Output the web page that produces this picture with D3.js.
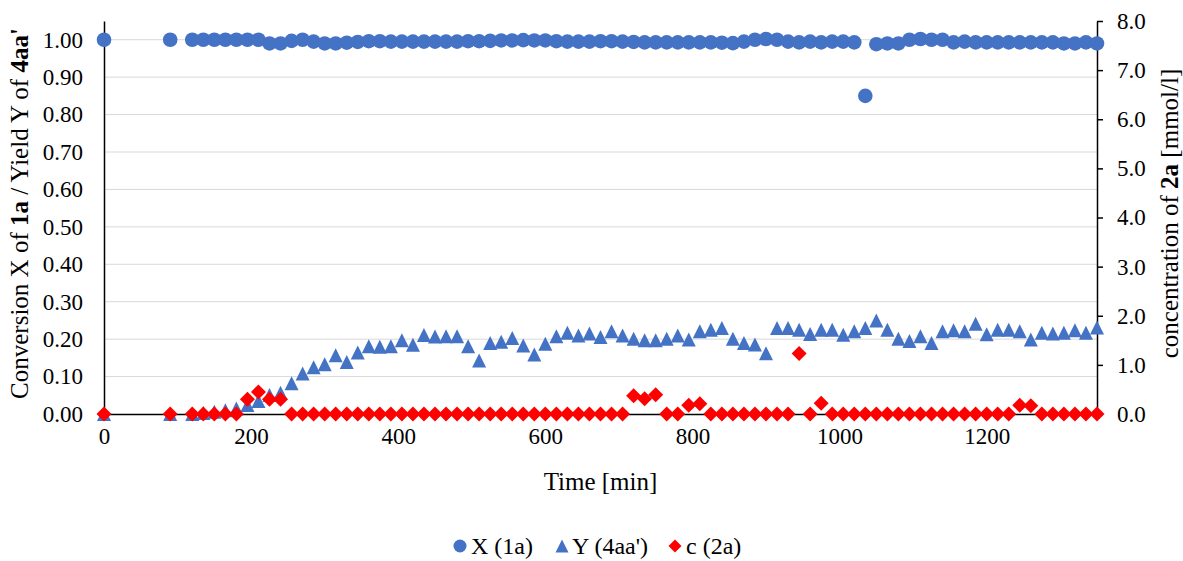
<!DOCTYPE html>
<html>
<head>
<meta charset="utf-8">
<script src="https://cdn.jsdelivr.net/npm/d3@7"></script>
<style>
  html, body { margin: 0; padding: 0; background: #fff; }
  svg { display: block; font-family: "Liberation Serif", "Times New Roman", serif; }
  .grid line { stroke: #d9d9d9; stroke-width: 1; }
  .axis path, .axis line { stroke: #000; stroke-width: 1.5; }
  .axis text { fill: #000; font-size: 23px; font-family: "Liberation Serif", "Times New Roman", serif; }
  .title { fill: #000; font-size: 25px; }
  .legend text { fill: #000; font-size: 24px; }
</style>
</head>
<body>
<svg id="chart" width="1183" height="561"></svg>
<script>
// Sampling times [min]
const times = [0, 90, 120, 135, 150, 165, 180, 195, 210, 225, 240, 255, 270, 285, 300,
  315, 330, 345, 360, 375, 390, 405, 420, 435, 450, 465, 480, 495, 510, 525, 540,
  555, 570, 585, 600, 615, 630, 645, 660, 675, 690, 705, 720, 735, 750, 765, 780,
  795, 810, 825, 840, 855, 870, 885, 900, 915, 930, 945, 960, 975, 990, 1005, 1020,
  1035, 1050, 1065, 1080, 1095, 1110, 1125, 1140, 1155, 1170, 1185, 1200, 1215,
  1230, 1245, 1260, 1275, 1290, 1305, 1320, 1335, 1350];

// Conversion X of 1a
const conversionX = [1.00, 1.00, 1.00, 1.00, 1.00, 1.00, 1.00, 1.00, 1.00, 0.99, 0.99,
  0.997, 1.00, 0.995, 0.99, 0.99, 0.992, 0.994, 0.996, 0.996, 0.995, 0.995, 0.995,
  0.995, 0.995, 0.995, 0.995, 0.996, 0.996, 0.997, 0.998, 0.998, 0.999, 0.998, 0.998,
  0.996, 0.995, 0.995, 0.995, 0.996, 0.996, 0.995, 0.994, 0.993, 0.993, 0.993, 0.993,
  0.993, 0.993, 0.993, 0.992, 0.991, 0.995, 1.00, 1.002, 1.00, 0.995, 0.993, 0.995,
  0.993, 0.995, 0.995, 0.993, 0.85, 0.988, 0.99, 0.99, 1.00, 1.002, 1.00, 1.00,
  0.993, 0.995, 0.993, 0.993, 0.993, 0.993, 0.993, 0.993, 0.993, 0.993, 0.99, 0.99,
  0.993, 0.99];

// Yield Y of 4aa'
const yieldY = [0, 0, 0, 0.003, 0.006, 0.01, 0.015, 0.024, 0.035, 0.051, 0.057, 0.082,
  0.108, 0.125, 0.133, 0.157, 0.139, 0.164, 0.181, 0.18, 0.181, 0.197, 0.185, 0.211,
  0.207, 0.208, 0.208, 0.181, 0.143, 0.19, 0.193, 0.203, 0.183, 0.159, 0.188, 0.208,
  0.217, 0.21, 0.215, 0.206, 0.221, 0.21, 0.201, 0.197, 0.197, 0.201, 0.21, 0.199,
  0.221, 0.225, 0.23, 0.201, 0.19, 0.186, 0.162, 0.23, 0.23, 0.225, 0.214, 0.225,
  0.225, 0.212, 0.221, 0.23, 0.25, 0.225, 0.201, 0.195, 0.208, 0.19, 0.221, 0.224,
  0.221, 0.241, 0.213, 0.225, 0.225, 0.221, 0.199, 0.217, 0.215, 0.217, 0.224, 0.217,
  0.231];

// Concentration c of 2a [mmol/l]
const conc2a = [0, 0, 0, 0, 0, 0, 0, 0.3, 0.45, 0.3, 0.3, 0, 0, 0, 0, 0, 0, 0, 0, 0,
  0, 0, 0, 0, 0, 0, 0, 0, 0, 0, 0, 0, 0, 0, 0, 0, 0, 0, 0, 0, 0, 0, 0.37, 0.31, 0.39,
  0, 0, 0.18, 0.21, 0, 0, 0, 0, 0, 0, 0, 0, 1.23, 0, 0.22, 0, 0, 0, 0, 0, 0, 0, 0, 0,
  0, 0, 0, 0, 0, 0, 0, 0, 0.18, 0.17, 0, 0, 0, 0, 0, 0];

const xTicks = [0, 200, 400, 600, 800, 1000, 1200];
const leftTicks = [0, 0.1, 0.2, 0.3, 0.4, 0.5, 0.6, 0.7, 0.8, 0.9, 1.0];
const rightTicks = [0, 1, 2, 3, 4, 5, 6, 7, 8];

const seriesNames = ["X (1a)", "Y (4aa')", "c (2a)"];
const blue = "#4472C4", red = "#FF0000";

const plot = { left: 104, right: 1097, top: 21, bottom: 414 };
const svg = d3.select("#chart");

const x = d3.scaleLinear().domain([0, 1350]).range([plot.left, plot.right]);
const yL = d3.scaleLinear().domain([0, 1.05]).range([plot.bottom, plot.top]);
const yR = d3.scaleLinear().domain([0, 8]).range([plot.bottom, plot.top]);

// horizontal gridlines of the left axis
svg.append("g").attr("class", "grid")
  .selectAll("line").data(leftTicks.filter(d => d > 0)).join("line")
  .attr("x1", plot.left).attr("x2", plot.right)
  .attr("y1", d => yL(d)).attr("y2", d => yL(d));

// axes
svg.append("g").attr("class", "axis")
  .attr("transform", `translate(0,${plot.bottom})`)
  .call(d3.axisBottom(x).tickValues(xTicks).tickSize(0).tickSizeOuter(0).tickPadding(14).tickFormat(d3.format("d")));

svg.append("g").attr("class", "axis")
  .attr("transform", `translate(${plot.left},0)`)
  .call(d3.axisLeft(yL).tickValues(leftTicks).tickSize(0).tickSizeOuter(0).tickPadding(21).tickFormat(d3.format(".2f")));

svg.append("g").attr("class", "axis")
  .attr("transform", `translate(${plot.right},0)`)
  .call(d3.axisRight(yR).tickValues(rightTicks).tickSize(6).tickSizeOuter(0).tickPadding(14).tickFormat(d3.format(".1f")));

// marker shapes
const triPath = "M0,-7L7,7L-7,7Z";
const diaPath = "M0,-7.5L7.5,0L0,7.5L-7.5,0Z";

const rows = times.map((t, i) => ({ t, X: conversionX[i], Y: yieldY[i], c: conc2a[i] }));

svg.append("g").selectAll("circle").data(rows).join("circle")
  .attr("cx", d => x(d.t)).attr("cy", d => yL(d.X)).attr("r", 7.3)
  .attr("fill", blue);

svg.append("g").selectAll("path").data(rows).join("path")
  .attr("d", triPath)
  .attr("transform", d => `translate(${x(d.t)},${yL(d.Y)})`)
  .attr("fill", blue);

svg.append("g").selectAll("path").data(rows).join("path")
  .attr("d", diaPath)
  .attr("transform", d => `translate(${x(d.t)},${yR(d.c)})`)
  .attr("fill", red);

// axis titles
const lt = svg.append("text").attr("class", "title")
  .attr("transform", `translate(28,${(plot.top + plot.bottom) / 2 - 4}) rotate(-90)`)
  .attr("text-anchor", "middle");
lt.append("tspan").text("Conversion X of ");
lt.append("tspan").attr("font-weight", "bold").text("1a");
lt.append("tspan").text(" / Yield Y of ");
lt.append("tspan").attr("font-weight", "bold").text("4aa'");

const rt = svg.append("text").attr("class", "title")
  .attr("transform", `translate(1178,${(plot.top + plot.bottom) / 2 - 4}) rotate(-90)`)
  .attr("text-anchor", "middle");
rt.append("tspan").text("concentration of ");
rt.append("tspan").attr("font-weight", "bold").text("2a");
rt.append("tspan").text(" [mmol/l]");

svg.append("text").attr("class", "title")
  .attr("x", (plot.left + plot.right) / 2).attr("y", 490)
  .attr("text-anchor", "middle").text("Time [min]");

// legend
const lg = svg.append("g").attr("class", "legend");
const ly = 546;
lg.append("circle").attr("cx", 460).attr("cy", ly).attr("r", 6.5).attr("fill", blue);
lg.append("text").attr("x", 471).attr("y", ly + 8).text(seriesNames[0]);
lg.append("path").attr("d", "M0,-6.5L6.5,6.5L-6.5,6.5Z").attr("transform", `translate(562,${ly})`).attr("fill", blue);
lg.append("text").attr("x", 572).attr("y", ly + 8).text(seriesNames[1]);
lg.append("path").attr("d", "M0,-6.5L6.5,0L0,6.5L-6.5,0Z").attr("transform", `translate(675,${ly})`).attr("fill", red);
lg.append("text").attr("x", 686).attr("y", ly + 8).text(seriesNames[2]);
</script>
</body>
</html>
